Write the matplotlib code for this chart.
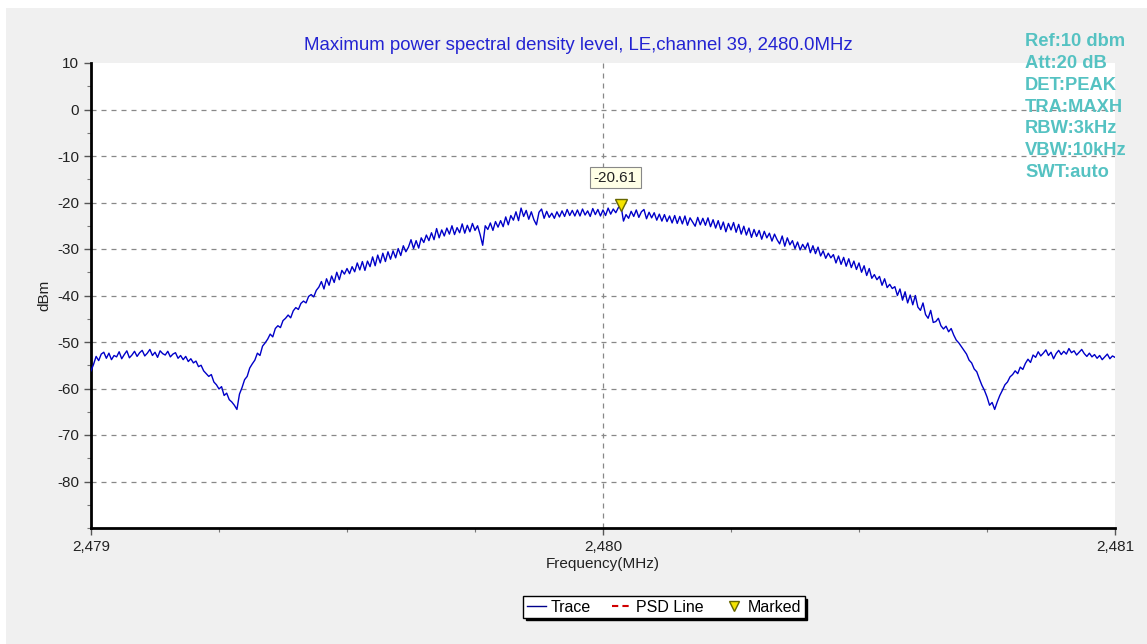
import numpy as np
import matplotlib
matplotlib.use("Agg")
import matplotlib.pyplot as plt
from matplotlib.lines import Line2D
from matplotlib.patches import Rectangle
from matplotlib.ticker import MultipleLocator, FuncFormatter

plt.rcParams['font.family'] = ['Liberation Sans', 'DejaVu Sans']
plt.rcParams['axes.unicode_minus'] = False

# sweep settings
f_start = 2479.0
f_stop = 2481.0

# trace (dBm), 401 sweep points
trace_dbm = [
    -56.2, -54.8, -53.1, -54.0, -52.6, -52.2, -53.5, -52.4, -53.8, -52.9,
    -53.2, -52.1, -53.6, -52.7, -51.9, -53.4, -52.8, -52.0, -53.1, -52.3,
    -51.8, -53.0, -52.4, -51.6, -52.9, -52.2, -53.3, -51.9, -52.5, -52.8,
    -52.0, -53.2, -52.6, -52.3, -53.5, -52.9, -53.8, -53.1, -54.2, -53.6,
    -54.5, -54.1, -55.3, -55.0, -56.2, -56.8, -57.4, -57.0, -58.6, -59.2,
    -60.1, -59.6, -61.5, -61.0, -62.4, -62.9, -63.6, -64.5, -61.2, -59.8,
    -58.1, -57.4, -55.6, -54.7, -53.9, -52.4, -52.9, -50.9, -50.2, -49.4,
    -48.3, -48.9, -47.1, -46.5, -46.9, -45.4, -44.9, -44.2, -44.8, -43.3,
    -42.6, -43.0, -41.7, -41.2, -41.6, -40.2, -39.8, -40.3, -38.9, -38.2,
    -37.0, -38.6, -36.4, -37.8, -35.8, -37.2, -35.0, -36.6, -34.6, -35.4,
    -34.2, -35.3, -33.8, -34.9, -33.0, -34.5, -32.7, -34.6, -32.6, -33.8,
    -31.7, -33.6, -31.3, -33.0, -30.9, -32.7, -30.6, -32.2, -30.4, -31.9,
    -29.9, -31.4, -29.3, -30.6, -29.6, -28.0, -29.9, -28.2, -29.8, -27.6,
    -28.6, -27.0, -28.2, -26.5, -28.0, -25.6, -27.6, -25.9, -27.2, -25.5,
    -26.8, -25.0, -26.9, -25.4, -26.5, -24.6, -26.6, -24.9, -26.3, -24.5,
    -26.0, -25.0, -26.9, -29.2, -25.0, -25.8, -24.4, -26.0, -24.1, -25.3,
    -23.9, -25.2, -23.1, -24.8, -22.8, -23.8, -22.0, -23.9, -21.2, -23.0,
    -21.7, -23.6, -22.0, -23.7, -24.8, -22.1, -21.4, -23.4, -21.9, -23.2,
    -22.3, -23.4, -22.0, -23.1, -21.8, -23.0, -21.5, -22.8, -21.7, -22.9,
    -21.6, -22.9, -21.4, -22.7, -21.8, -23.0, -21.3, -22.6, -21.5, -22.9,
    -21.6, -22.8, -21.2, -22.5, -21.4, -22.2, -21.1, -20.61, -24.0, -22.6,
    -23.4, -21.9, -23.0, -21.6, -23.2, -22.0, -21.5, -23.5, -22.1, -23.3,
    -22.2, -23.8, -22.5, -24.0, -22.6, -24.1, -22.9, -24.4, -22.8, -24.5,
    -23.0, -24.6, -22.9, -24.9, -23.3, -24.2, -25.1, -23.2, -24.8, -23.4,
    -24.9, -23.3, -25.2, -23.7, -25.5, -23.9, -25.8, -24.2, -26.3, -24.5,
    -25.9, -24.3, -26.4, -24.7, -26.8, -25.1, -27.0, -25.5, -27.5, -25.8,
    -27.3, -26.0, -27.9, -26.2, -27.6, -26.6, -28.3, -26.8, -28.0, -28.9,
    -27.2, -29.4, -27.6, -29.1, -28.2, -29.9, -28.5, -30.2, -29.0, -30.0,
    -28.7, -30.8, -29.3, -31.0, -29.6, -31.5, -30.4, -32.0, -30.9, -31.9,
    -31.2, -33.0, -31.5, -33.3, -31.8, -33.7, -32.1, -34.0, -32.6, -34.4,
    -33.0, -35.0, -33.6, -35.7, -34.2, -36.3, -35.5, -36.6, -35.9, -37.8,
    -36.4, -38.3, -37.6, -38.5, -38.1, -40.0, -38.6, -41.0, -39.2, -41.6,
    -39.9, -42.0, -40.0, -42.5, -43.2, -41.6, -44.1, -44.9, -43.2, -45.8,
    -45.6, -44.9, -46.5, -47.2, -46.6, -47.8, -47.1, -48.5, -49.6, -50.2,
    -51.0, -51.8, -52.6, -53.9, -54.5, -55.8, -56.4, -57.9, -59.3, -60.4,
    -61.8, -63.6, -63.0, -64.5, -62.9, -61.5, -60.4, -59.2, -58.6, -57.5,
    -57.0, -56.2, -56.8, -55.4, -55.9, -54.6, -53.7, -54.4, -52.8, -53.3,
    -52.1, -53.0, -52.4, -51.7, -52.9, -52.2, -53.6, -52.5, -51.8, -52.7,
    -52.0, -52.6, -51.4, -52.3, -51.9, -52.8, -52.2, -51.6, -52.5, -53.1,
    -52.4, -53.2, -52.7, -53.5, -52.9, -53.8, -53.2, -52.6, -53.6, -53.0,
    -53.3,
]
freq = np.linspace(f_start, f_stop, len(trace_dbm))

marker_freq = 2480.035
marker_level = -20.61

settings = ["Ref:10 dbm", "Att:20 dB", "DET:PEAK", "TRA:MAXH",
            "RBW:3kHz", "VBW:10kHz", "SWT:auto"]

fig = plt.figure(figsize=(11.47, 6.44), dpi=100, facecolor='#f0f0f0')
# thin white border of the screenshot
fig.patches.append(Rectangle((0, 0), 6 / 1147, 1, transform=fig.transFigure,
                             facecolor='white', edgecolor='none', zorder=-1))
fig.patches.append(Rectangle((0, 1 - 8 / 644), 1, 8 / 644, transform=fig.transFigure,
                             facecolor='white', edgecolor='none', zorder=-1))

ax = fig.add_axes([91 / 1147, 1 - 528 / 644, 1024 / 1147, 465 / 644])
ax.set_facecolor('white')

ax.plot(freq, trace_dbm, color='#0000c8', lw=1.0, zorder=3)
ax.plot([marker_freq], [marker_level], marker='v', color='#f5e400',
        markeredgecolor='#666600', markersize=8, zorder=4, linestyle='none')
ax.annotate('%.2f' % marker_level, xy=(marker_freq, marker_level),
            xytext=(-4, 20), textcoords='offset points', ha='center', va='center',
            fontsize=11, color='#222222',
            bbox=dict(boxstyle='square,pad=0.25', facecolor='#ffffe6', edgecolor='#888888', lw=0.8))

ax.set_xlim(f_start, f_stop)
ax.set_ylim(-90, 10)
ax.set_xticks([2479, 2480, 2481])
ax.xaxis.set_major_formatter(FuncFormatter(lambda v, p: '{:,.0f}'.format(v)))
ax.xaxis.set_minor_locator(MultipleLocator(0.25))
ax.set_yticks(np.arange(-80, 11, 10))
ax.yaxis.set_minor_locator(MultipleLocator(5))
ax.tick_params(axis='both', which='major', length=5, width=1, color='#555555',
               labelsize=11, labelcolor='#222222')
ax.tick_params(axis='both', which='minor', length=3, width=0.8, color='#777777')

for yv in range(-80, 10, 10):
    ax.axhline(yv, color='#888888', lw=0.9, ls=(0, (4, 4)), zorder=1)
ax.axvline(2480, color='#888888', lw=0.9, ls=(0, (4, 4)), zorder=1)

for side in ['top', 'right']:
    ax.spines[side].set_visible(False)
for side in ['left', 'bottom']:
    ax.spines[side].set_linewidth(2)
    ax.spines[side].set_color('black')

ax.set_xlabel('Frequency(MHz)', fontsize=11, color='#222222', labelpad=2)
ax.set_ylabel('dBm', fontsize=11, color='#222222', labelpad=4)
ax.set_title('Maximum power spectral density level, LE,channel 39, 2480.0MHz',
             fontsize=13.4, color='#2323d2', pad=9, x=(578 - 91) / 1024)

for k, s in enumerate(settings):
    fig.text(1025 / 1147, 1 - (42 + 21.7 * k) / 644, s, fontsize=13.2, fontweight='bold',
             color='#55c2c2', ha='left', va='center')

handles = [Line2D([], [], color='#00008b', lw=1),
           Line2D([], [], color='#d00000', lw=1.5, ls=(0, (3, 2))),
           Line2D([], [], color='#f5e400', marker='v', markeredgecolor='#666600',
                  markersize=7, ls='none')]
leg = fig.legend(handles, ['Trace', 'PSD Line', 'Marked'], loc='center',
                 bbox_to_anchor=(664 / 1147, 1 - 607 / 644), ncol=3, fontsize=11.5,
                 frameon=True, fancybox=False, shadow={'color': 'black', 'alpha': 1},
                 edgecolor='black', handlelength=1.2, handletextpad=0.3,
                 columnspacing=1.3, borderpad=0.2)
leg.get_frame().set_linewidth(1)

fig.savefig('out.png', dpi=100, facecolor=fig.get_facecolor())
